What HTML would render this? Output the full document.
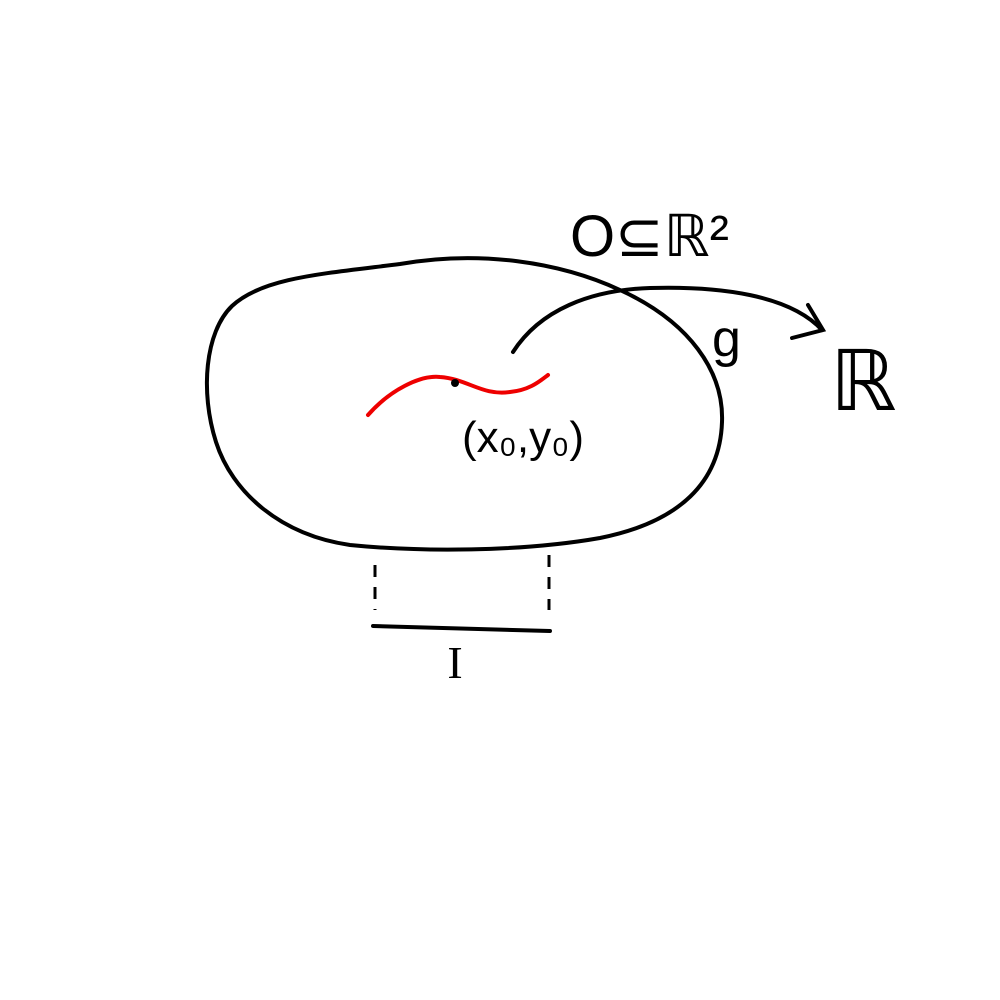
<!DOCTYPE html>
<html>
<head>
<meta charset="utf-8">
<style>
html,body{margin:0;padding:0;background:#fff;}
svg{display:block;}
text{font-family:"Liberation Sans","DejaVu Sans",sans-serif;fill:#000;}
</style>
</head>
<body>
<svg width="1000" height="1000" viewBox="0 0 1000 1000">
  <rect x="0" y="0" width="1000" height="1000" fill="#fff"/>
  <path fill="none" stroke="#000" stroke-width="4" stroke-linecap="round"
    d="M 232,306 C 262,278 320,274 400,264 C 480,250 560,262 620,290 C 690,322 724,372 722,422 C 720,482 680,522 600,538 C 520,552 420,552 350,545 C 280,535 232,492 216,442 C 200,392 205,332 232,306 Z"/>
  <path fill="none" stroke="#000" stroke-width="4" stroke-linecap="round"
    d="M 513,352 C 540,310 590,290 650,288 C 720,286 790,295 822,330"/>
  <path fill="none" stroke="#000" stroke-width="4" stroke-linecap="round"
    d="M 808,305 L 823,330 L 792,338"/>
  <path fill="none" stroke="#e00" stroke-width="4" stroke-linecap="round"
    d="M 368,415 C 390,390 420,375 440,377 C 468,379 482,396 510,392 C 530,390 540,381 548,375"/>
  <circle cx="455" cy="383" r="4" fill="#000"/>
  <line x1="375" y1="565" x2="375" y2="610" stroke="#000" stroke-width="3" stroke-dasharray="12,10"/>
  <line x1="549" y1="555" x2="549" y2="610" stroke="#000" stroke-width="3" stroke-dasharray="12,10"/>
  <line x1="373" y1="626" x2="550" y2="631" stroke="#000" stroke-width="4" stroke-linecap="round"/>
  <text x="455" y="678" font-size="46" text-anchor="middle" style="font-family:'Liberation Serif',serif">I</text>
  <text x="570" y="256" font-size="58">O⊆ℝ²</text>
  <text x="712" y="356" font-size="52">g</text>
  <text x="830" y="410" font-size="84">ℝ</text>
  <text x="462" y="452" font-size="44">(x₀,y₀)</text>
</svg>
</body>
</html>
